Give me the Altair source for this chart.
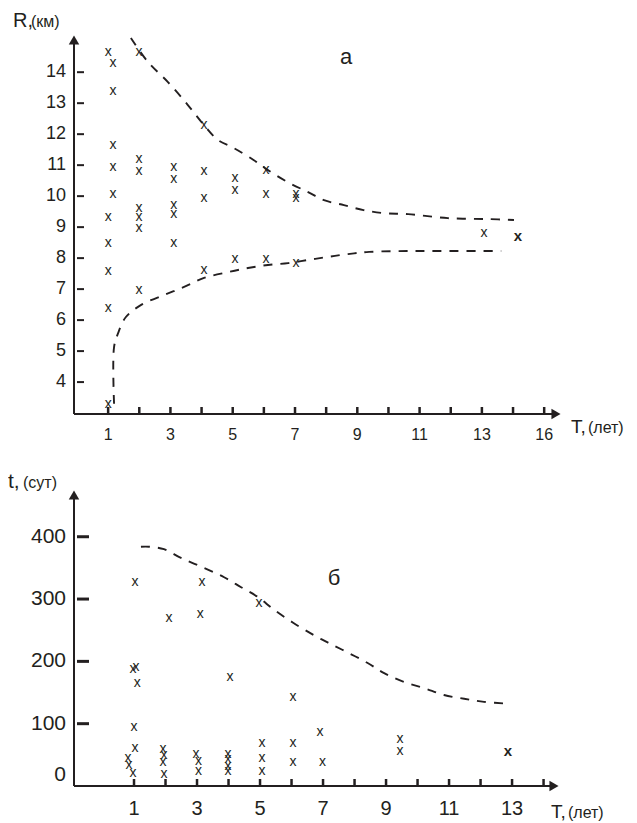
import altair as alt
import pandas as pd

INK = "#231f20"
FONT = "Liberation Sans"

# ---------------- Panel a: R (km) vs T (years) ----------------
a_T = [1.0, 1.16, 1.16, 1.16, 1.16, 1.16, 1.0, 1.0, 1.0, 1.0, 1.0,
       1.99, 1.99, 1.99, 1.99, 1.99, 1.99, 1.99,
       3.11, 3.11, 3.11, 3.11, 3.11,
       4.08, 4.08, 4.08, 4.08,
       5.07, 5.07, 5.07,
       6.07, 6.07, 6.07,
       7.03, 7.03, 7.03,
       13.07]
a_R = [14.65, 14.3, 13.4, 11.65, 10.94, 10.07, 9.33, 8.49, 7.59, 6.39, 3.3,
       14.65, 11.2, 10.81, 9.62, 9.33, 8.97, 6.97,
       10.94, 10.55, 9.71, 9.42, 8.49,
       12.3, 10.81, 9.94, 7.62,
       10.58, 10.2, 7.97,
       10.84, 10.07, 7.97,
       10.07, 9.94, 7.84,
       8.81]
a_bold_T = [14.16]
a_bold_R = [8.71]

a_upper_T = [1.73, 2.28, 2.92, 3.56, 4.08, 4.53, 5.04, 5.68, 6.13, 6.77, 7.42,
             7.93, 8.57, 9.2, 9.86, 10.63, 11.91, 13.23, 14.03]
a_upper_R = [15.1, 14.33, 13.68, 12.94, 12.29, 11.81, 11.55, 11.16, 10.84, 10.45, 10.13,
             9.87, 9.71, 9.55, 9.45, 9.42, 9.29, 9.26, 9.23]
a_lower_T = [1.19, 1.19, 1.32, 1.57, 2.06, 2.79, 3.44, 4.08, 4.85, 5.49, 6.13,
             6.78, 7.42, 8.06, 8.7, 9.38, 10.73, 12.11, 13.62]
a_lower_R = [3.3, 5.13, 5.58, 6.1, 6.49, 6.81, 7.07, 7.36, 7.55, 7.68, 7.78,
             7.84, 7.94, 8.04, 8.13, 8.2, 8.23, 8.23, 8.23]

a_x_ticks = list(range(1, 16))
a_x_label_pos = [1, 3, 5, 7, 9, 11, 13, 15]
a_x_label_txt = ["1", "3", "5", "7", "9", "11", "13", "16"]
a_y_ticks = [4, 5, 6, 7, 8, 9, 10, 11, 12, 13, 14]
a_y_label_txt = ["4", "5", "6", "7", "8", "9", "10", "11", "12", "13", "14"]

# ---------------- Panel b: t (days) vs T (years) ----------------
b_T = [1.03, 3.16, 2.11, 3.10, 4.97,
       0.97, 1.06, 1.10, 1.00, 1.03, 0.81, 0.84, 0.97,
       1.92, 1.95, 1.92, 1.95,
       2.97, 3.05, 3.05,
       3.98, 3.98, 3.98, 3.98, 4.05,
       5.06, 5.06, 5.06,
       6.05, 6.05, 6.05,
       6.90, 6.98,
       9.44, 9.44]
b_t = [327, 327, 270, 276, 294,
       188, 191, 165, 95, 61, 45, 34, 21,
       59, 50, 39, 19,
       51, 40, 24,
       51, 43, 32, 24, 175,
       69, 45, 24,
       143, 69, 39,
       87, 39,
       75, 56]
b_bold_T = [12.87]
b_bold_t = [56]

b_curve_T = [1.22, 1.48, 1.95, 2.49, 3.22, 3.86, 4.40, 4.94, 5.44, 6.05, 6.71,
             7.16, 7.79, 8.43, 8.94, 9.57, 10.21, 10.84, 11.48, 12.11, 12.90]
b_curve_t = [384, 384, 380, 366, 350, 335, 319, 303, 283, 262, 242,
             230, 214, 197, 181, 167, 157, 146, 140, 135, 132]

b_x_ticks = list(range(1, 15))
b_x_label_pos = [1, 3, 5, 7, 9, 11, 13]
b_x_label_txt = ["1", "3", "5", "7", "9", "11", "13"]
b_y_ticks = [100, 200, 300, 400]
b_y_label_txt = ["100", "200", "300", "400"]
b_zero_label = ["0"]

one = pd.DataFrame({"k": [0]})


def txt(s, x, y, size, align="left", baseline="alphabetic", weight="normal"):
    return alt.Chart(one).mark_text(
        text=s, font=FONT, fontSize=size, color=INK, align=align,
        baseline=baseline, fontWeight=weight
    ).encode(x=alt.value(x), y=alt.value(y))


def panel(W, H, xdom, ydom, pts, bold, curves, xticks, xlab, ylab_pos, ylab_txt,
          xlab_size, ylab_size, ytick_len, ytick_w, extra):
    xs = alt.Scale(domain=xdom, nice=False, zero=False)
    ys = alt.Scale(domain=ydom, nice=False, zero=False)

    lines = alt.Chart(curves).mark_line(
        color=INK, strokeWidth=1.9, strokeDash=[9, 8], interpolate="catmull-rom"
    ).encode(
        x=alt.X("T:Q", scale=xs, axis=None),
        y=alt.Y("v:Q", scale=ys, axis=None),
        detail="curve:N",
        order="i:Q",
    )
    marks = alt.Chart(pts).mark_text(
        text="x", font=FONT, fontSize=14, color=INK
    ).encode(x=alt.X("T:Q", scale=xs, axis=None), y=alt.Y("v:Q", scale=ys, axis=None))
    bmarks = alt.Chart(bold).mark_text(
        text="x", font=FONT, fontSize=15, fontWeight="bold", color=INK
    ).encode(x=alt.X("T:Q", scale=xs, axis=None), y=alt.Y("v:Q", scale=ys, axis=None))

    xt = alt.Chart(pd.DataFrame({"p": xticks})).mark_rule(color=INK, strokeWidth=2.5).encode(
        x=alt.X("p:Q", scale=xs, axis=None), y=alt.value(H), y2=alt.value(H - 7))
    yt = alt.Chart(pd.DataFrame({"p": ylab_pos})).mark_rule(color=INK, strokeWidth=ytick_w).encode(
        y=alt.Y("p:Q", scale=ys, axis=None), x=alt.value(3), x2=alt.value(3 + ytick_len))

    xl = alt.Chart(pd.DataFrame({"p": xlab[0], "s": xlab[1]})).mark_text(
        font=FONT, fontSize=xlab_size, color=INK, baseline="top"
    ).encode(x=alt.X("p:Q", scale=xs, axis=None), y=alt.value(H + 13), text="s:N")
    yl = alt.Chart(pd.DataFrame({"p": ylab_pos, "s": ylab_txt})).mark_text(
        font=FONT, fontSize=ylab_size, color=INK, align="right", baseline="middle"
    ).encode(y=alt.Y("p:Q", scale=ys, axis=None), x=alt.value(-8), text="s:N")

    xaxis = alt.Chart(one).mark_rule(color=INK, strokeWidth=2).encode(
        x=alt.value(0), x2=alt.value(W - 6), y=alt.value(H))
    yaxis = alt.Chart(one).mark_rule(color=INK, strokeWidth=2).encode(
        x=alt.value(0), y=alt.value(6), y2=alt.value(H))
    arr_r = alt.Chart(one).mark_point(shape="triangle-right", filled=True, size=110,
                                      color=INK, opacity=1).encode(
        x=alt.value(W - 5), y=alt.value(H))
    arr_u = alt.Chart(one).mark_point(shape="triangle-up", filled=True, size=110,
                                      color=INK, opacity=1).encode(
        x=alt.value(0), y=alt.value(5))

    return alt.layer(lines, marks, bmarks, xt, yt, xl, yl, xaxis, yaxis, arr_r, arr_u,
                     *extra).properties(width=W, height=H)


def curves_df(series):
    rows = []
    for name, Ts, Vs in series:
        for i, (t, v) in enumerate(zip(Ts, Vs)):
            rows.append({"curve": name, "i": i, "T": t, "v": v})
    return pd.DataFrame(rows)


# Panel a
WA, HA = 487, 379
a_chart = panel(
    WA, HA, [-0.096, 15.54], [2.97, 15.2],
    pd.DataFrame({"T": a_T, "v": a_R}),
    pd.DataFrame({"T": a_bold_T, "v": a_bold_R}),
    curves_df([("upper", a_upper_T, a_upper_R), ("lower", a_lower_T, a_lower_R)]),
    a_x_ticks, (a_x_label_pos, a_x_label_txt), a_y_ticks, a_y_label_txt,
    16, 18, 7, 2,
    [
        txt("R,", -61, -8, 20),
        txt("(км)", -43, -8, 16),
        txt("T,", 497, 398, 19),
        txt("(лет)", 514, 398, 16),
        txt("а", 272, 22, 22, align="center", baseline="middle"),
    ],
)

# Panel b
WB, HB = 485, 296
b_zero = alt.Chart(pd.DataFrame({"p": [0], "s": b_zero_label})).mark_text(
    font=FONT, fontSize=21, color=INK, align="right", baseline="middle", dy=-11
).encode(y=alt.Y("p:Q", scale=alt.Scale(domain=[0, 475], nice=False, zero=False), axis=None),
         x=alt.value(-8), text="s:N")
b_chart = panel(
    WB, HB, [-0.905, 14.49], [0, 475],
    pd.DataFrame({"T": b_T, "v": b_t}),
    pd.DataFrame({"T": b_bold_T, "v": b_bold_t}),
    curves_df([("upper", b_curve_T, b_curve_t)]),
    b_x_ticks, (b_x_label_pos, b_x_label_txt), b_y_ticks, b_y_label_txt,
    20, 21, 12, 3,
    [
        b_zero,
        txt("t,", -66, -2, 21),
        txt("(сут)", -51, -2, 16),
        txt("T,", 477, 328, 19),
        txt("(лет)", 494, 328, 16),
        txt("б", 260, 88, 22, align="center", baseline="middle"),
    ],
)

chart = alt.vconcat(a_chart, b_chart, spacing=76, bounds="flush").properties(
    padding={"left": 0, "top": 3, "right": 0, "bottom": 0}
).configure_view(stroke=None)

chart.save("out.html", embed_options={"renderer": "svg", "actions": False})
